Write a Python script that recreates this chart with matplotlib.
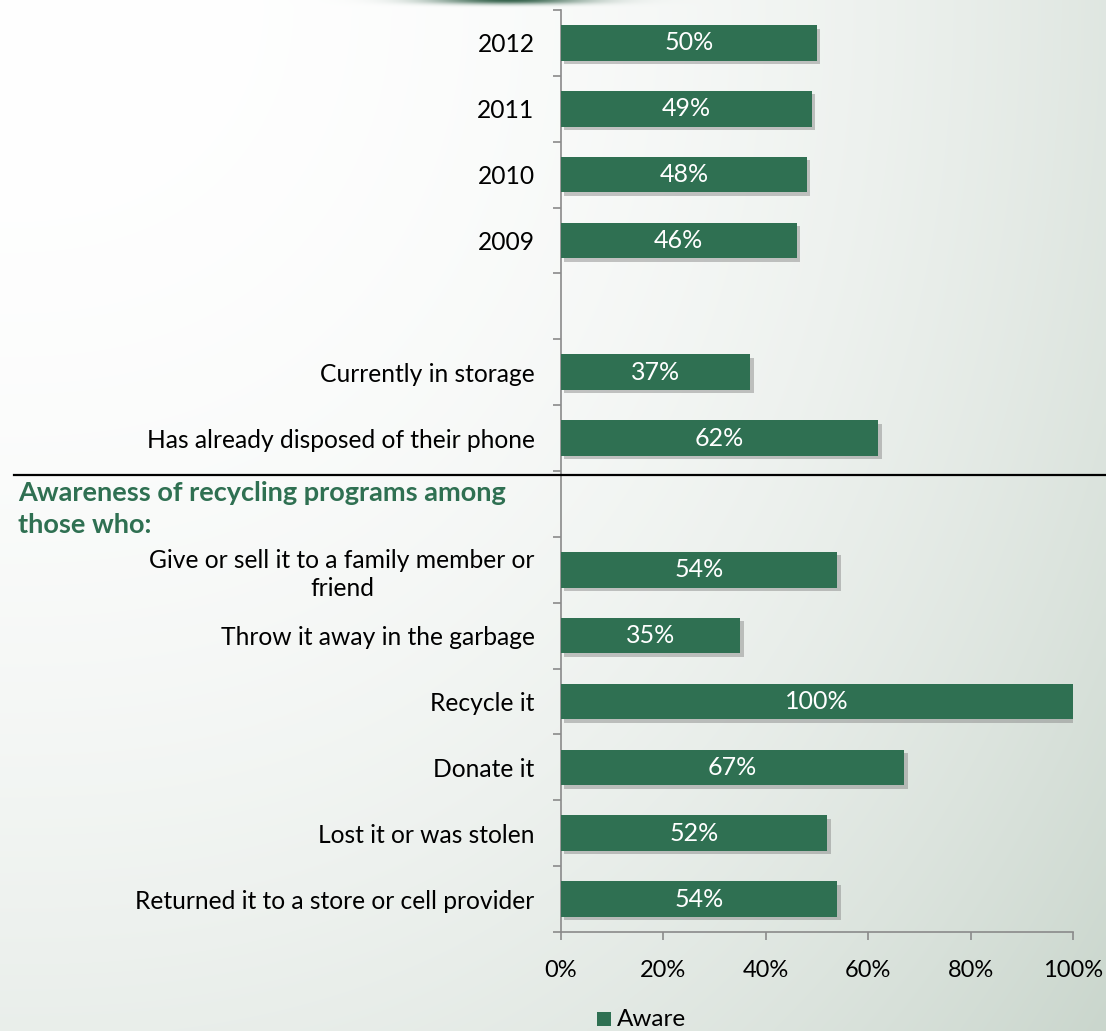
import numpy as np
import matplotlib
matplotlib.use("Agg")
import matplotlib.pyplot as plt
from matplotlib import patheffects as pe
from matplotlib.lines import Line2D
from matplotlib.patches import Rectangle

plt.rcParams['font.family'] = ['Lato', 'DejaVu Sans']

# --- data -----------------------------------------------------------------
year_labels = ['2012', '2011', '2010', '2009']
year_aware = [50, 49, 48, 46]

status_labels = ['Currently in storage', 'Has already disposed of their phone']
status_aware = [37, 62]

disposal_labels = ['Give or sell it to a family member or\nfriend',
                   'Throw it away in the garbage',
                   'Recycle it',
                   'Donate it',
                   'Lost it or was stolen',
                   'Returned it to a store or cell provider']
disposal_aware = [54, 35, 100, 67, 52, 54]

x_ticks = [0, 20, 40, 60, 80, 100]
x_tick_labels = ['0%', '20%', '40%', '60%', '80%', '100%']
series_name = 'Aware'
section_title = 'Awareness of recycling programs among\nthose who:'

GREEN = '#2f7052'
AXIS_GREY = '#8a8a8a'

# rows: four years, a gap, two status rows, a gap, six disposal rows
labels = year_labels + [''] + status_labels + [''] + disposal_labels
values = year_aware + [None] + status_aware + [None] + disposal_aware
n_rows = len(labels)

W, H = 1106, 1031
fig = plt.figure(figsize=(W / 100, H / 100), dpi=100)

# --- soft background wash ------------------------------------------------
bg_ax = fig.add_axes([0, 0, 1, 1], zorder=-10)
xs = np.linspace(0, 1, 400)
ys = np.linspace(0, 1, 400)
XX, YY = np.meshgrid(xs, ys)          # YY = 0 at top
t = 0.55 * XX ** 2.4 + 0.38 * YY ** 2.0
t = np.clip(t, 0, 1)
white = np.array([1.0, 1.0, 1.0])
tint = np.array([198, 211, 201]) / 255.0
bg = white[None, None, :] * (1 - t[..., None]) + tint[None, None, :] * t[..., None]
# thin dark green streak along the top edge
streak_x = np.exp(-((xs - 0.46) / 0.07) ** 2)
streak_y = np.clip(1 - ys / 0.004, 0, 1)
w = (streak_y[:, None] * streak_x[None, :])[..., None] * 0.9
dark = np.array([30, 80, 55]) / 255.0
bg = bg * (1 - w) + dark[None, None, :] * w
bg_ax.imshow(bg, extent=[0, 1, 0, 1], aspect='auto', interpolation='bicubic')
bg_ax.set_axis_off()

# --- main bar chart --------------------------------------------------------
ax = fig.add_axes([561 / W, 99 / H, 512 / W, 922 / H])
ax.patch.set_alpha(0)

shadow = [pe.SimplePatchShadow(offset=(2.5, -2.5), shadow_rgbFace='#808080', alpha=0.45),
          pe.Normal()]
for i, v in enumerate(values):
    if v is None:
        continue
    bar = ax.barh(i, v, height=0.54, color=GREEN, zorder=3)
    for p in bar.patches:
        p.set_path_effects(shadow)
    ax.text(v / 2, i, f'{v}%', ha='center', va='center', color='white',
            fontsize=18, zorder=4)

ax.set_xlim(0, 100)
ax.set_ylim(n_rows - 0.5, -0.5)

ax.set_xticks(x_ticks)
ax.set_xticklabels(x_tick_labels, fontsize=17)
ax.set_yticks(range(n_rows))
ax.set_yticklabels(labels, fontsize=17.7, multialignment='center', linespacing=1.25)
ax.set_yticks(np.arange(-0.5, n_rows, 1.0), minor=True)
ax.tick_params(axis='y', which='major', length=0, pad=19)
ax.tick_params(axis='y', which='minor', length=6, width=1.2, color=AXIS_GREY, direction='out')
ax.tick_params(axis='x', which='major', length=6, width=1.2, color=AXIS_GREY,
               direction='out', pad=14)

for side in ('top', 'right'):
    ax.spines[side].set_visible(False)
for side in ('left', 'bottom'):
    ax.spines[side].set_color(AXIS_GREY)
    ax.spines[side].set_linewidth(1.2)

# separator between the two groups of rows
fig.add_artist(Line2D([14 / W, 1.0], [1 - 475 / H, 1 - 475 / H],
                      color='black', linewidth=1.6, transform=fig.transFigure))

# section heading
fig.text(18 / W, 1 - 481 / H, section_title, ha='left', va='top',
         fontsize=19.5, fontweight='bold', color=GREEN, linespacing=1.38)

# legend
fig.add_artist(Rectangle((597 / W, 1 - 1026 / H), 14 / W, 14 / H,
                         facecolor=GREEN, edgecolor='none', transform=fig.transFigure))
fig.text(617 / W, 1 - 1019 / H, series_name, ha='left', va='center', fontsize=17.5)

fig.savefig('out.png', dpi=100)
